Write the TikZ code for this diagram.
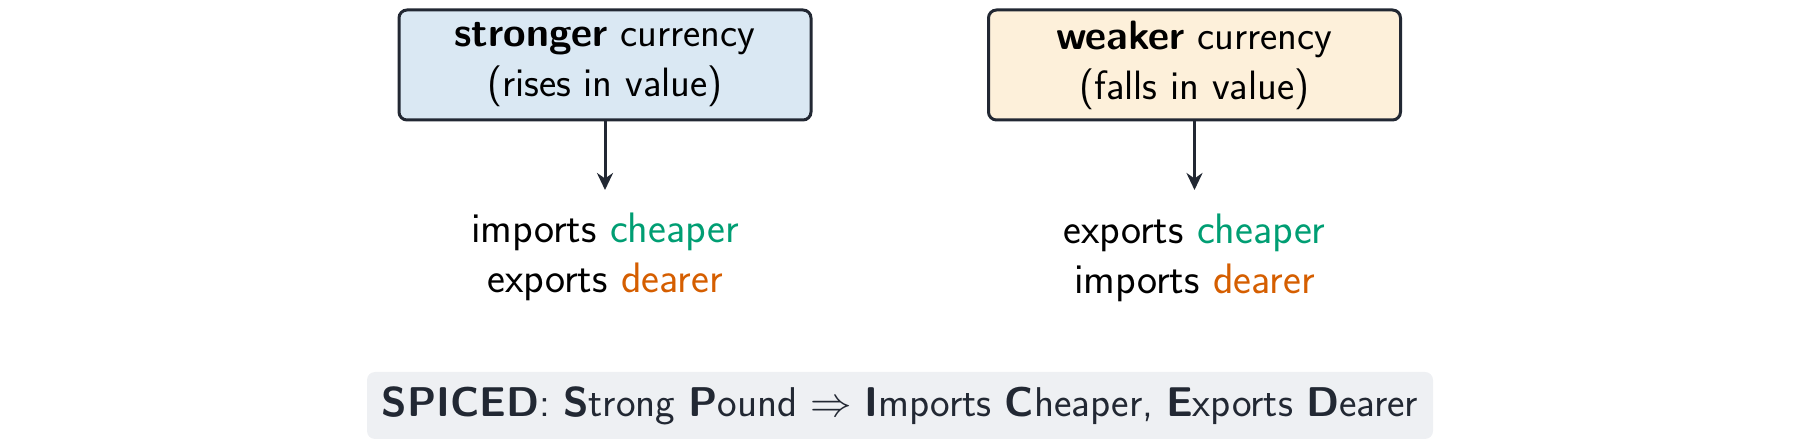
\documentclass[tikz,border=0pt]{standalone}
\usetikzlibrary{arrows.meta}
\usepackage{amssymb}
\definecolor{ink}{HTML}{222833}
\definecolor{blueF}{HTML}{DAE8F3}
\definecolor{yellowF}{HTML}{FDF0DA}
\definecolor{grayF}{HTML}{EEF0F3}
\definecolor{goodC}{HTML}{009E73}
\definecolor{badC}{HTML}{D55E00}
\tikzset{
  curbox/.style={draw=ink, line width=1.5pt, rounded corners=4pt, minimum width=206pt, minimum height=55pt, align=center, inner sep=0pt, font=\sffamily\fontsize{20.5}{25}\selectfont, text=black},
  effect/.style={align=center, inner sep=0pt, font=\sffamily\fontsize{21.3}{25}\selectfont, text=black},
  arr/.style={draw=ink, line width=1.5pt, -{Stealth[length=8.5pt,width=8pt]}},
  memo/.style={fill=grayF, rounded corners=4pt, minimum width=533pt, minimum height=33.5pt, inner sep=0pt, font=\sffamily\fontsize{20.8}{25}\selectfont, text=ink}
}
\begin{document}
\begin{tikzpicture}[x=0.5pt,y=-0.5pt]
\useasboundingbox (0,0) rectangle (1800,448);
\node[curbox, fill=blueF] (strong) at (605,65) {\textbf{stronger} currency\\(rises in value)};
\node[curbox, fill=yellowF] (weak) at (1194.5,65) {\textbf{weaker} currency\\(falls in value)};
\node[effect] (seff) at (605,257) {imports \textcolor{goodC}{cheaper}\\exports \textcolor{badC}{dearer}};
\node[effect] (weff) at (1194.5,258) {exports \textcolor{goodC}{cheaper}\\imports \textcolor{badC}{dearer}};
\coordinate (sTip) at (605,190);
\coordinate (wTip) at (1194.5,190);
\draw[arr] (strong.south) -- (sTip);
\draw[arr] (weak.south) -- (wTip);
\node[memo] (spiced) at (900,405.5) {\textbf{SPICED}: \textbf{S}trong \textbf{P}ound $\Rightarrow$ \textbf{I}mports \textbf{C}heaper, \textbf{E}xports \textbf{D}earer};
\end{tikzpicture}
\end{document}
